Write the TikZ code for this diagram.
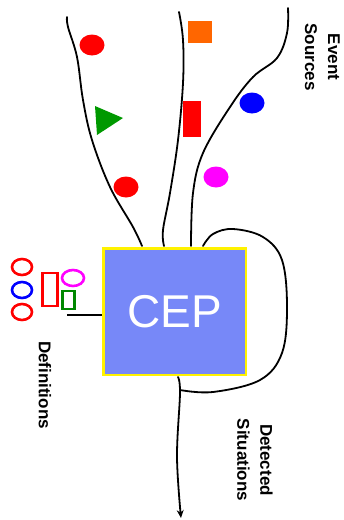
\documentclass[tikz,border=0pt]{standalone}
\usepackage{fontspec}
\setmainfont{Liberation Sans}
\usetikzlibrary{arrows.meta}
\definecolor{cepfill}{HTML}{7788F8}
\definecolor{evred}{HTML}{FF0000}
\definecolor{evorange}{HTML}{FF6600}
\definecolor{evgreen}{HTML}{009900}
\definecolor{evblue}{HTML}{0000FF}
\definecolor{evmag}{HTML}{FF00FF}
\definecolor{defgreen}{HTML}{008800}
\begin{document}
\begin{tikzpicture}[x=1pt,y=-1pt,
  stream/.style={line width=1.8pt, line cap=round, line join=round},
  lbl/.style={font=\bfseries\fontsize{17}{23}\selectfont, rotate=-90, align=center, inner sep=0pt},
  defshape/.style={line width=2.6pt}]
\useasboundingbox (0,0) rectangle (344,520);

% CEP box
\node[draw=yellow, line width=2.5pt, fill=cepfill, minimum width=142.5pt, minimum height=126.5pt,
      inner sep=0pt, text=white, font=\fontsize{46}{50}\selectfont] (cep) at (174.5,311.5) {CEP};

% event streams
\draw[stream] plot[smooth, tension=0.6] coordinates {(67,17) (68,27) (77,57) (83,100) (92,140) (110,187) (133,227) (142,246)};
\draw[stream] plot[smooth, tension=0.6] coordinates {(179,12) (183,40) (183,83) (178,140) (170,193) (163,230) (164,246)};
\draw[stream] plot[smooth, tension=0.6] coordinates {(288,8) (287,33) (277,58) (253,77) (230,107) (203,153) (193,193) (191,246)};

% feedback loop
\draw[stream] plot[smooth, tension=0.6] coordinates {(203,246) (213,234) (233,229) (263,237) (282,260) (287,307) (282,353) (260,380) (213,392) (180,390)};

% output
\draw[stream, -{Stealth[length=8pt,width=7pt]}] plot[smooth, tension=0.6] coordinates {(178,377) (180,393) (177,457) (181,518)};

% definitions connector
\coordinate (defend) at (67,315);
\draw[line width=1.6pt] (defend) -- (cep.west |- defend);

% events
\fill[evred] (92,45) ellipse (12.5 and 10.5);
\fill[evgreen] (95,106) -- (97,135) -- (123,118) -- cycle;
\fill[evred] (126,187) ellipse (12.5 and 10.5);
\fill[evorange] (188,21) rectangle (212,43);
\fill[evred] (183,101) rectangle (201,137);
\fill[evblue] (252,103) ellipse (12.5 and 10.5);
\fill[evmag] (216,177) ellipse (12.5 and 10.5);

% definitions
\draw[defshape, evred] (22,267) ellipse (10 and 8);
\draw[defshape, evblue] (22,290) ellipse (10 and 8);
\draw[defshape, evred] (22,312) ellipse (10 and 8);
\draw[defshape, evred] (42.5,273) rectangle (57.5,306);
\draw[defshape, evmag] (73,278) ellipse (11 and 8);
\draw[defshape, defgreen] (62.5,291) rectangle (74.5,309);

% labels
\node[lbl] (evsrc) at (322.5,57) {Event\\Sources};
\node[lbl] (defs) at (45,385) {Definitions};
\node[lbl] (detsit) at (255,460) {Detected\\Situations};
\end{tikzpicture}
\end{document}
